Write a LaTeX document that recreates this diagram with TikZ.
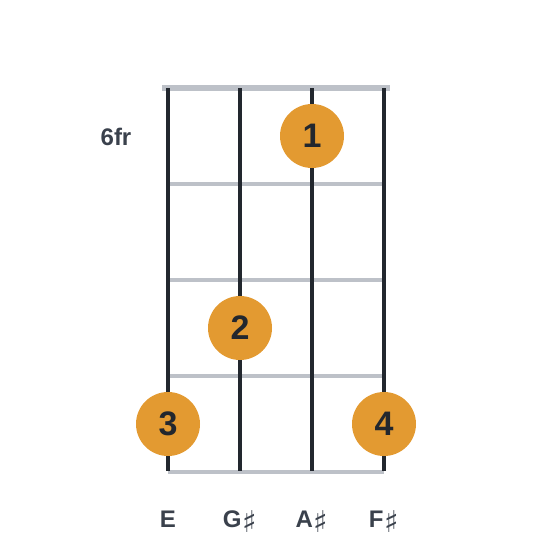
\documentclass[tikz,border=0pt]{standalone}
\usepackage{fontspec}
\setmainfont{Liberation Sans}
\newfontfamily\symfont{DejaVu Sans}
\newcommand\shp{\kern1pt{\symfont\fontsize{30}{30}\selectfont\mdseries\raisebox{-5pt}{\char"266F}}}
\definecolor{stringc}{HTML}{22272E}
\definecolor{fretc}{HTML}{BDC1C8}
\definecolor{dotc}{HTML}{E39A31}
\definecolor{labc}{HTML}{3A414C}
\tikzset{
  fingerdot/.style={circle,fill=dotc,minimum size=64pt,inner sep=0pt,text=stringc,font=\fontsize{34}{34}\selectfont\bfseries},
  strline/.style={draw=stringc,line width=4pt},
  fretline/.style={draw=fretc,line width=3.5pt},
  nutline/.style={draw=fretc,line width=5.5pt},
  notelab/.style={text=labc,font=\fontsize{24}{24}\selectfont\bfseries,inner sep=0pt,anchor=base}
}
\begin{document}
\begin{tikzpicture}[x=1pt,y=-1pt]
\useasboundingbox (0,0) rectangle (560,560);
% nut
\coordinate (nl) at (162,88);
\coordinate (nr) at (390,88);
\draw[nutline] (nl) -- (nr);
% frets
\foreach \i/\y in {1/184,2/280,3/376,4/472}{
  \coordinate (fl\i) at (168,\y);
  \coordinate (fr\i) at (384,\y);
  \draw[fretline] (fl\i) -- (fr\i);
}
% strings
\foreach \i/\x in {1/168,2/240,3/312,4/384}{
  \coordinate (st\i) at (\x,88);
  \coordinate (sb\i) at (\x,471);
  \draw[strline] (st\i) -- (sb\i);
}
% fret label
\node[notelab] (frl) at (116,145.5) {6fr};
% dots
\node[fingerdot] (d1) at (312,136) {1};
\node[fingerdot] (d2) at (240,328) {2};
\node[fingerdot] (d3) at (168,424) {3};
\node[fingerdot] (d4) at (384,424) {4};
% note labels
\node[notelab] (n1) at (168,527.5) {E};
\node[notelab] (n2) at (240,527.5) {G\shp};
\node[notelab] (n3) at (312,527.5) {A\shp};
\node[notelab] (n4) at (384,527.5) {F\shp};
\end{tikzpicture}
\end{document}
